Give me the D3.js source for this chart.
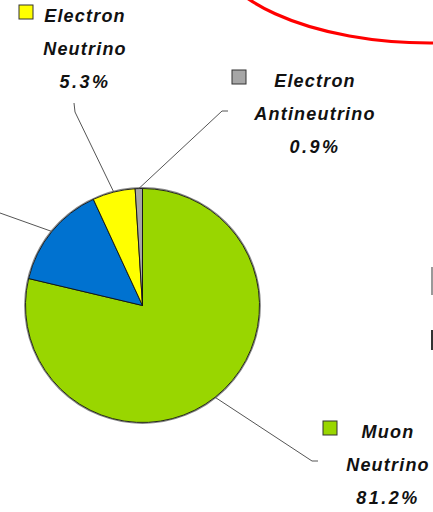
<!DOCTYPE html>
<html>
<head>
<meta charset="utf-8">
<script src="https://cdn.jsdelivr.net/npm/d3@7"></script>
<style>
  body { margin: 0; background: #fff; }
  svg { display: block; }
</style>
</head>
<body>
<svg id="chart" width="433" height="512"></svg>
<script>
// slices clockwise from 12 o'clock (sizes read from the drawn wedges)
var names = [
  ['Muon', 'Neutrino'],
  ['Muon', 'Antineutrino'],
  ['Electron', 'Neutrino'],
  ['Electron', 'Antineutrino'],
];
var values = [78.7, 14.4, 5.9, 1.0];
var pctLabels = ['81.2%', '', '5.3%', '0.9%'];
var colors = ['#99d600', '#0072d0', '#ffff00', '#a6a6a6'];

// label placement: block centre x, first baseline y, key square x, leader elbow points
// (the muon antineutrino label sits outside the frame, only its leader shows)
var labelPos = [
  { x: 388, y: 438, key: 323, leader: [[312, 461], [318, 461]] },
  null,
  { x: 85, y: 22, key: 19, leader: [[75, 112], [74, 103]] },
  { x: 315, y: 87, key: 232, leader: [[222, 111], [228, 111]] },
];
var blueLeader = [[0, 213], [-20, 206]];

var svg = d3.select('#chart');
var cx = 142.5, cy = 305.5, r = 117;

// red outline from the slide, cut by the frame
svg.append('ellipse')
  .attr('cx', 430).attr('cy', -57)
  .attr('rx', 219).attr('ry', 100)
  .attr('fill', 'none')
  .attr('stroke', '#ff0000')
  .attr('stroke-width', 3.2);

// bits of something cut at the right edge
svg.append('rect').attr('x', 431).attr('y', 267).attr('width', 2).attr('height', 28).attr('fill', '#999');
svg.append('rect').attr('x', 431).attr('y', 330).attr('width', 2).attr('height', 20).attr('fill', '#333');

var pie = d3.pie().sort(null).value((d) => d)(values);
var arcMkr = d3.arc().innerRadius(0).outerRadius(r);
var edge = d3.arc().innerRadius(r).outerRadius(r);

var g = svg.append('g').attr('transform', 'translate(' + cx + ',' + cy + ')');

g.append('circle')
  .attr('r', r + 0.8)
  .attr('fill', 'none')
  .attr('stroke', '#888')
  .attr('stroke-width', 1.2);

g.selectAll('path')
  .data(pie)
  .enter()
  .append('path')
  .attr('d', arcMkr)
  .attr('fill', (d, i) => colors[i])
  .attr('stroke', '#111')
  .attr('stroke-width', 0.9)
  .attr('stroke-linejoin', 'round');

// leader lines
var lnMkr = d3.line();
pie.forEach(function (d, i) {
  var p = edge.centroid(d);
  var elbow = labelPos[i] ? labelPos[i].leader : blueLeader;
  var pts = [[p[0] + cx, p[1] + cy]].concat(elbow);
  svg.append('path')
    .attr('d', lnMkr(pts))
    .attr('fill', 'none')
    .attr('stroke', '#555')
    .attr('stroke-width', 1);
});

// labels
var lineH = 33;
names.forEach(function (nm, i) {
  var lp = labelPos[i];
  if (!lp) return;
  var lab = svg.append('g');
  var lines = nm.concat([pctLabels[i]]);
  lines.forEach(function (t, k) {
    lab.append('text')
      .attr('x', lp.x)
      .attr('y', lp.y + k * lineH)
      .attr('text-anchor', 'middle')
      .attr('font-family', '"Liberation Sans", Arial, sans-serif')
      .attr('font-weight', 'bold')
      .attr('font-style', 'italic')
      .attr('font-size', 18)
      .attr('letter-spacing', k == 2 ? 2.5 : 1.2)
      .attr('fill', '#111')
      .text(t);
  });
  // legend key square left of the first line
  lab.append('rect')
    .attr('x', lp.key)
    .attr('y', lp.y - 17)
    .attr('width', 14)
    .attr('height', 14)
    .attr('fill', colors[i])
    .attr('stroke', '#333')
    .attr('stroke-width', 1);
});
</script>
</body>
</html>
